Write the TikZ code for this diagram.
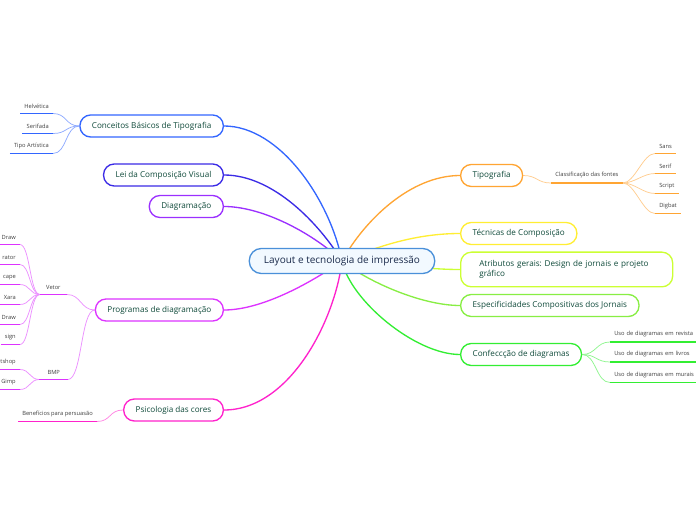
\documentclass[tikz,border=0pt]{standalone}
\usepackage{fontspec}
\setmainfont{Open Sans}
\usepackage{tikz}
\usetikzlibrary{positioning,backgrounds}
\definecolor{cRoot}{HTML}{4A90D9}
\definecolor{cRootFill}{HTML}{F2F9FF}
\definecolor{cNavy}{HTML}{1B2B4B}
\definecolor{cTxt}{HTML}{0F4A3A}
\definecolor{cBlue}{HTML}{3366FF}
\definecolor{cIndigo}{HTML}{3B2BE6}
\definecolor{cPurple}{HTML}{9B30FF}
\definecolor{cViolet}{HTML}{DD33FF}
\definecolor{cPink}{HTML}{FF22CC}
\definecolor{cOrange}{HTML}{FFA533}
\definecolor{cYellow}{HTML}{FFEE33}
\definecolor{cLime}{HTML}{CCFF33}
\definecolor{cLgreen}{HTML}{88EE44}
\definecolor{cGreen}{HTML}{33EE33}
\tikzset{
  rootbox/.style={draw=cRoot,fill=cRootFill,line width=1pt,rounded corners=9pt,
    minimum height=18.75pt,inner xsep=11pt,font=\fontsize{7.5}{9}\selectfont,text=cNavy},
  brbox/.style={draw=#1,fill=white,line width=1pt,rounded corners=8pt,
    minimum height=16.5pt,inner xsep=9pt,font=\fontsize{6.1}{8}\selectfont\frenchspacing,text=cTxt},
  lf/.style={font=\fontsize{4.3}{5}\selectfont,text=black!75,inner xsep=3pt,inner ysep=3.4pt},
  ul/.style={draw=#1,line width=1.3pt},
  mainln/.style={draw=#1,line width=1pt},
  subln/.style={draw=#1!55,line width=0.55pt},
}
\begin{document}
\begin{tikzpicture}[x=0.75pt,y=-0.75pt]
  \useasboundingbox (0,0) rectangle (696,520);
  % central topic and main branches
  \node[rootbox] (cen) at (342,261) {Layout e tecnologia de impressão};
  \node[brbox=cBlue,anchor=east] (cba) at (224,126) {Conceitos Básicos de Tipografia};
  \node[brbox=cIndigo,anchor=east] (lei) at (224,175) {Lei da Composição Visual};
  \node[brbox=cPurple,anchor=east] (dia) at (224,206.5) {Diagramação};
  \node[brbox=cViolet,anchor=east] (prg) at (224,310) {Programas de diagramação};
  \node[brbox=cPink,anchor=east] (psi) at (224,410) {Psicologia das cores};
  \node[brbox=cOrange,anchor=west] (tip) at (460,175.5) {Tipografia};
  \node[brbox=cYellow,anchor=west] (tec) at (460,233.5) {Técnicas de Composição};
  \node[brbox=cLime,anchor=west,align=left,text width=131pt,inner xsep=14pt,minimum height=26pt]
    (atr) at (460,269.5) {Atributos gerais: Design de jornais e projeto\\gráfico};
  \node[brbox=cLgreen,anchor=west] (esp) at (460,305.5) {Especificidades Compositivas dos Jornais};
  \node[brbox=cGreen,anchor=west] (cnf) at (460,354.5) {Confeccção de diagramas};
  % leaves, left side
  \node[lf,anchor=south east] (hel) at (53,113.5) {Helvética};
  \node[lf,anchor=south east] (ser) at (53,133.5) {Serifada};
  \node[lf,anchor=south east] (tpa) at (53,153.5) {Tipo Artística};
  \node[lf,anchor=south east,minimum width=20pt] (vet) at (67,294.5) {Vetor};
  \node[lf,anchor=south east,minimum width=21pt] (bmp) at (68,379.5) {BMP};
  \node[lf,anchor=south east] (v1) at (20,244.5) {Draw};
  \node[lf,anchor=south east] (v2) at (20,264.5) {rator};
  \node[lf,anchor=south east] (v3) at (20,284.5) {cape};
  \node[lf,anchor=south east] (v4) at (20,304.5) {Xara};
  \node[lf,anchor=south east] (v5) at (20,324.5) {Draw};
  \node[lf,anchor=south east] (v6) at (20,344.5) {sign};
  \node[lf,anchor=south east] (b1) at (20,369.5) {tshop};
  \node[lf,anchor=south east] (b2) at (20,389.5) {Gimp};
  \node[lf,anchor=south east] (ben) at (97,421.5) {Benefícios para persuasão};
  % leaves, right side
  \node[lf,anchor=south west] (cls) at (551,183) {Classificação das fontes};
  \node[lf,anchor=south west] (san) at (655,153.5) {Sans};
  \node[lf,anchor=south west] (srf) at (655,173.5) {Serif};
  \node[lf,anchor=south west] (scr) at (655,193.5) {Script};
  \node[lf,anchor=south west] (dgb) at (655,213.5) {Digbat};
  \node[lf,anchor=south west,text width=62pt,align=left] (u1) at (610,342) {Uso de diagramas em revista};
  \node[lf,anchor=south west,text width=62pt,align=left] (u2) at (610,362) {Uso de diagramas em livros};
  \node[lf,anchor=south west,text width=62pt,align=left] (u3) at (610,382.5) {Uso de diagramas em murais};
  % underlines
  \foreach \n/\c in {hel/cBlue,ser/cBlue,tpa/cBlue,vet/cViolet,bmp/cViolet,v1/cViolet,v2/cViolet,
      v3/cViolet,v4/cViolet,v5/cViolet,v6/cViolet,b1/cViolet,b2/cViolet,ben/cPink,cls/cOrange,
      san/cOrange,srf/cOrange,scr/cOrange,dgb/cOrange,u1/cGreen,u2/cGreen,u3/cGreen}
    \draw[ul=\c] (\n.south west) -- (\n.south east);
  \begin{scope}[on background layer]
    \fill[white] (0,0) rectangle (696,520);
    % main connectors
    \draw[mainln=cBlue] (cen.center) .. controls +(-12,-61) and +(56,0) .. (cba.east);
    \draw[mainln=cIndigo] (cen.center) .. controls +(-22,-36) and +(50,0) .. (lei.east);
    \draw[mainln=cPurple] (cen.center) .. controls +(-27,-26) and +(40,0) .. (dia.east);
    \draw[mainln=cViolet] (cen.center) .. controls +(-27,19) and +(40,0) .. (prg.east);
    \draw[mainln=cPink] (cen.center) .. controls +(-7,59) and +(66,0) .. (psi.east);
    \draw[mainln=cOrange] (cen.center) .. controls +(22,-40) and +(-50,0) .. (tip.west);
    \draw[mainln=cYellow] (cen.center) .. controls +(28,-11) and +(-50,0) .. (tec.west);
    \draw[mainln=cLime] (cen.center) .. controls +(38,1) and +(-40,0) .. (atr.west);
    \draw[mainln=cLgreen] (cen.center) .. controls +(23,19) and +(-40,0) .. (esp.west);
    \draw[mainln=cGreen] (cen.center) .. controls +(8,39) and +(-45,0) .. (cnf.west);
    % leaf connectors
    \foreach \n in {hel,ser,tpa}
      \draw[subln=cBlue] (\n.south east) .. controls +(14,0) and +(-14,0) .. (cba.west);
    \foreach \n in {v1,v2,v3,v4,v5,v6}
      \draw[subln=cViolet] (\n.south east) .. controls +(10,0) and +(-10,0) .. (vet.south west);
    \foreach \n in {b1,b2}
      \draw[subln=cViolet] (\n.south east) .. controls +(10,0) and +(-10,0) .. (bmp.south west);
    \foreach \n in {vet,bmp}
      \draw[subln=cViolet] (\n.south east) .. controls +(14,0) and +(-14,0) .. (prg.west);
    \draw[subln=cPink] (ben.south east) .. controls +(14,0) and +(-14,0) .. (psi.west);
    \draw[subln=cOrange] (tip.east) .. controls +(14,0) and +(-14,0) .. (cls.south west);
    \foreach \n in {san,srf,scr,dgb}
      \draw[subln=cOrange] (cls.south east) .. controls +(12,0) and +(-12,0) .. (\n.south west);
    \foreach \n in {u1,u2,u3}
      \draw[subln=cGreen] (cnf.east) .. controls +(14,0) and +(-14,0) .. (\n.south west);
  \end{scope}
\end{tikzpicture}
\end{document}
